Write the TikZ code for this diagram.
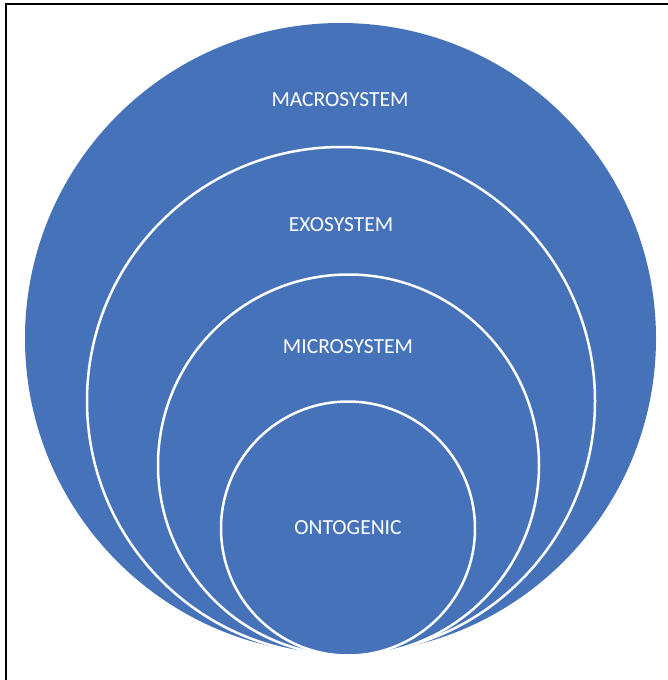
\documentclass[tikz,border=0pt]{standalone}
\usepackage{fontspec}
\setmainfont{Carlito}
\definecolor{sysblue}{HTML}{4672B9}
\begin{document}
\begin{tikzpicture}[x=1pt,y=-1pt,
  ring/.style={circle, inner sep=0pt, outer sep=0pt, fill=sysblue},
  innerring/.style={ring, draw=white, line width=2.5pt},
  lbl/.style={text=white, inner sep=0pt, font=\fontsize{21.5}{26}\selectfont}]
\useasboundingbox (0,0) rectangle (668,680);
\fill[white] (0,0) rectangle (668,680);
\draw[line width=2.2pt] (5.9,680) -- (5.9,4.2) -- (668,4.2);
\node[ring, minimum size=631pt] (macro) at (340.5,338.5) {};
\node[innerring, minimum size=508pt] (exo) at (341,401) {};
\node[innerring, minimum size=381pt] (micro) at (348.5,465) {};
\node[innerring, minimum size=254pt] (onto) at (348,528.5) {};
\node[lbl] (tmacro) at (340,100) {MACROSYSTEM};
\node[lbl] (texo) at (341,224.5) {EXOSYSTEM};
\node[lbl] (tmicro) at (348,346.5) {MICROSYSTEM};
\node[lbl] (tonto) at (348,528) {ONTOGENIC};
\end{tikzpicture}
\end{document}
